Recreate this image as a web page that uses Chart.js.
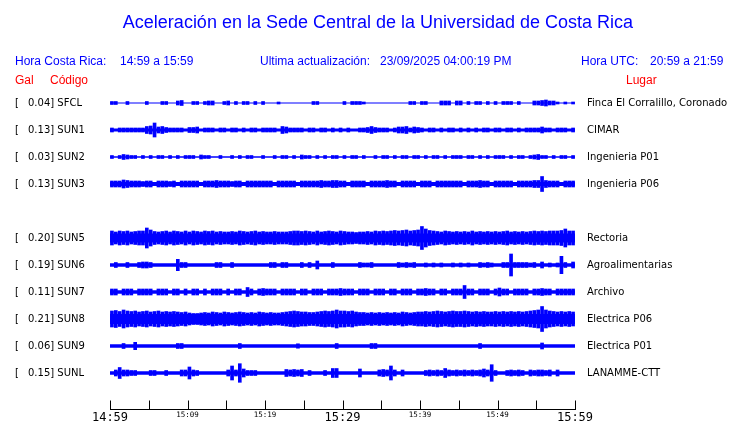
<!DOCTYPE html>
<html>
<head>
<meta charset="utf-8">
<script src="https://cdn.jsdelivr.net/npm/chart.js@4"></script>
<style>
body { margin: 0; background: #fff; }
#wrap { position: relative; width: 740px; height: 423px; overflow: hidden; font-family: "Liberation Sans", Arial, sans-serif; }
#wrap div { position: absolute; white-space: pre; line-height: 1; }
canvas { position: absolute; left: 0; top: 0; }
.t { color: #0000ff; font-size: 18px; }
.h { color: #0000ff; font-size: 12px; }
.r { color: #ff0000; font-size: 12px; }
.lab { font-family: "DejaVu Sans"; font-size: 10px; color: #000; }
</style>
</head>
<body>
<div id="wrap">
  <canvas id="chart" width="740" height="423"></canvas>
  <div class="t" style="left:0;width:756px;text-align:center;top:13px">Aceleración en la Sede Central de la Universidad de Costa Rica</div>
  <div class="h" style="left:15px;top:55px">Hora Costa Rica:</div>
  <div class="h" style="left:120px;top:55px">14:59 a 15:59</div>
  <div class="h" style="left:260px;top:55px">Ultima actualización:</div>
  <div class="h" style="left:380px;top:55px">23/09/2025 04:00:19 PM</div>
  <div class="h" style="left:581px;top:55px">Hora UTC:</div>
  <div class="h" style="left:650px;top:55px">20:59 a 21:59</div>
  <div class="r" style="left:15px;top:74px">Gal</div>
  <div class="r" style="left:50px;top:74px">Código</div>
  <div class="r" style="left:626px;top:74px">Lugar</div>
</div>
<script>
// ===== datos =====
const codes = ["SFCL", "SUN1", "SUN2", "SUN3", "SUN5", "SUN6", "SUN7", "SUN8", "SUN9", "SUNL"];
const gal = ["0.04", "0.13", "0.03", "0.13", "0.20", "0.19", "0.11", "0.21", "0.06", "0.15"];
const places = ["Finca El Corralillo, Coronado", "CIMAR", "Ingenieria P01", "Ingenieria P06",
  "Rectoria", "Agroalimentarias", "Archivo", "Electrica P06", "Electrica P01", "LANAMME-CTT"];
// fila de cada estación (SUN4 no aparece, queda el hueco)
const rows = [0, 1, 2, 3, 5, 6, 7, 8, 9, 10];
const timeLabels = ["14:59", "15:09", "15:19", "15:29", "15:39", "15:49", "15:59"];

// grosor medio de la traza continua
const base = [0.6, 1.5, 0.7, 2, 4.5, 1.8, 1.8, 5, 1.8, 1.8];

// amplitud (media) de cada medio minuto, 120 valores por estación
const ampSFCL = [1.5,1.5,0,0,1.5,0,0,0,0,1.5, 0,0,0,1.5,1.5,0,0,2,2.5,0, 0,1.5,1.5,0,1.5,2,2,0,0,1.5,
  2,0,1.5,0,1.5,1.5,0,1.5,0,1.5, 0,0,0,1,0,0,0,0,0,0, 0,0,1.5,1.5,0,0,0,0,0,0,
  1.5,0,1.5,1.5,1.5,1,0,0,0,0, 0,0,0,0,0,0,0,1.5,1.5,0, 1.5,1.5,0,0,0,2,2,2,0,2,
  2,0,1.5,0,1.5,1.5,0,1.5,0,1.5, 0,1.5,1.5,1.5,0,1.5,0,0,0,2, 2,2.5,3,2,2,1,0,1,0,1];
const ampSUN1 = [2,0,2,2,2,2,2,2,2,3.5, 4,7,3,3.5,2.5,2,2,2,2,0, 2.5,2.5,3,0,2,2,2,0,2,2,
  0,2,2,0,2,0,2,2,0,2, 2,2,2,0,3.5,3,2,2,2,2, 0,2,2,0,2,2,0,2,0,2,
  0,2,0,0,2,2,2.5,3.5,2.5,2, 2,2,0,2,3,3,3.5,2,3,2.5, 2,0,2,2,0,2,0,2,2,0,
  2,0,2,0,2,0,2,2,0,2, 2,0,2,2,0,2,0,2,2,2, 2,3,2,2,0,2,2,2,0,2];
const ampSUN2 = [1.5,0,1.5,2.5,2,1.5,1.5,0,1.5,0, 1.5,0,1.5,1.5,0,1.5,0,1.5,0,1.5, 1.5,1.5,0,2,1.5,1.5,0,0,1.5,0,
  0,1.5,0,1.5,0,1.5,1.5,0,0,1.5, 0,0,1.5,0,1.5,1.5,0,1.5,0,2, 1.5,1.5,0,1.5,0,1.5,0,1.5,1.5,0,
  1.5,0,1.5,1.5,0,1.5,0,0,1.5,0, 1.5,1.5,0,1.5,0,1.5,1.5,0,1.5,1.5, 0,1.5,0,1.5,1.5,0,1.5,0,1.5,1.5,
  1.5,0,1.5,1.5,0,1.5,0,1.5,0,1.5, 1.5,1.5,0,1.5,0,1.5,1.5,0,1.5,2, 2.5,1.5,1.5,0,1.5,0,1.5,1.5,0,1.5];
const ampSUN3 = [3,3,3,4,3.5,3,3,3,2.5,3, 3,0,3,3,3,2.5,3,0,3,3, 3,3,3,0,3,3,3,3.5,3,3,
  3,2.5,3,3,0,3,3,3,3,3, 3,3,0,3,3,3,3,3,0,3, 3,3,3,3,3.5,3,3,3.5,3.5,3,
  3,0,3,3,3,3,0,3,3,3, 3,3.5,3,3,0,3,3,3,3,0, 3,3,3,0,3,3,3,3,3,3,
  3,0,3,3,3,3.5,3,3,0,3, 3,3,3,3,0,3,3,3,3,3.5, 3.5,7.5,3.5,3,3,3,0,3,3,3];
const ampSUN5 = [7,6,7,6.5,7,6,6.5,7,7,10, 8,6.5,6,6.5,7,6,7,6.5,6,7, 6,7,6.5,6,7,6.5,7,6,6.5,6,
  6,6.5,6,7,6.5,6,6.5,7,6,6.5, 6,6,6.5,6,6,6,6.5,7,7,6.5, 7,6.5,6,7,6,6.5,7,6.5,6,7,
  6.5,6,6,5.5,6,6,6.5,6,7,6.5, 7,6.5,7,7.5,7,7.5,8,7,7.5,8, 11.5,9,7.5,7,6.5,6,7,6.5,6,6.5,
  6,6.5,6,7,6,6.5,6,6.5,6,6.5, 6,6.5,7,6,6.5,6,6.5,6,6.5,7, 6.5,7,6.5,7,7,7,7.5,9,7,7];
const ampSUN6 = [0,2.5,0,0,2.5,0,0,2.5,3,3, 2.5,0,0,0,0,0,0,5.7,2.5,2.5, 0,0,0,0,0,0,0,2.5,2.5,0,
  0,2.5,0,0,0,0,0,0,0,0, 0,2.5,2.5,0,2.5,2.5,0,0,0,2.5, 0,2.5,0,4,0,0,0,2.5,0,0,
  0,0,0,0,2.5,2,2,2.5,0,0, 0,0,0,0,2.5,2,2.5,2,2.5,0, 0,2,0,2,0,2,0,0,2,0,
  2,0,2,0,0,2.5,2,2.5,2,0, 0,2.5,2.5,11,2.5,2.5,2.5,2.5,2,2.5, 0,3,0,2,0,2,8.7,2.5,0,3];
const ampSUN7 = [3,3,0,3,3,3,0,3,3,3, 3,0,3,3,3,0,3,3,0,3, 0,3,3,0,3,0,3,3,3,0,
  3,0,3,3,0,4.5,3,0,3,3.5, 3,3,3,0,3,3,3,3,0,3, 3,0,3,3,3,0,3,3,3,3.5,
  3,3,3,0,3,3,3,0,3,3, 3,0,3,3,0,3,3,3,0,3, 3,3.5,3,3,0,3,3,0,3,3,
  3,6.5,3,3,0,3,3,3,0,3, 4,3,3,0,3,3,3,3,0,3, 3,3.5,3,3,0,3,3,3,3,3];
const ampSUN8 = [8,8.5,7.5,9,8,7.5,8,7,7.5,8, 7,7.5,8,7,7.5,7,7.5,7,6.5,7, 6,5.5,5.5,6,6.5,6,7,6.5,6,7,
  6.5,6,6.5,7,6.5,6,6.5,6,7,6.5, 6,6.5,6,6,6.5,7,7.5,8,7.5,7, 7,6.5,6.5,7,7.5,8,7.5,8,9,8,
  8,7.5,8,7,6.5,6.5,6,6.5,6,6.5, 6,6.5,6,6.5,6,7,6.5,6,6.5,7, 7,7.5,7,7.5,8,7.5,7,7.5,8,7.5,
  7.5,8,7.5,7,7.5,7,7.5,7,7,7.5, 7,7.5,7,7.5,7,7.5,7,7.5,8,8.5, 9,12.5,9,8,7.5,7,7.5,7,7.5,7];
const ampSUN9 = [0,0,0,2.5,0,0,3.7,0,0,0, 0,0,0,0,0,0,0,2.5,2.5,0, 0,0,0,0,0,0,0,0,0,0,
  0,0,0,2.5,0,0,0,0,0,0, 0,0,0,0,0,0,0,0,2.2,0, 0,0,0,0,0,0,0,0,2.5,0,
  0,0,0,0,0,0,0,2.5,2.5,0, 0,0,0,0,0,0,0,0,0,0, 0,0,0,0,0,0,0,0,0,0,
  0,0,0,0,0,2.5,0,0,0,0, 0,0,0,0,0,0,0,0,0,0, 0,3,0,0,0,0,0,0,0,0];
const ampSUNL = [0,3,5.5,3,3,2.5,2.5,0,0,0, 2.5,2.5,0,0,2.5,0,0,0,3,3, 6,3,2.5,0,0,0,0,0,0,0,
  3,7,3,9.3,4,2.5,2.5,2.5,0,0, 0,0,0,0,0,3.5,3,3.5,3,3.5, 0,2.5,0,0,0,2.5,0,4.5,4.5,0,
  0,0,0,0,4,0,0,0,0,3, 3.5,3,7,3,0,3,0,0,0,0, 0,2.5,3,2.5,3,2.5,4.5,3,2.5,3,
  2.5,3,2.5,3,2.5,3,4,3,8.3,2.5, 0,0,2.5,3,2.5,3,2.5,0,3,2.5, 3,3,2.5,3,0,3,0,0,0,0];
const amps = [ampSFCL, ampSUN1, ampSUN2, ampSUN3, ampSUN5, ampSUN6, ampSUN7, ampSUN8, ampSUN9, ampSUNL];

const BLUE = "#0000ff";
const centerOf = (row) => 103 + 27 * row;

// ===== etiquetas de texto =====
const wrap = document.getElementById("wrap");
function addText(txt, left, top) {
  const d = document.createElement("div");
  d.className = "lab";
  d.textContent = txt;
  d.style.left = left + "px";
  d.style.top = top + "px";
  wrap.appendChild(d);
}
codes.forEach((code, i) => {
  const y = centerOf(rows[i]) - 5;
  addText("[", 15, y);
  addText(gal[i] + "] " + code, 28, y);
  addText(places[i], 587, y);
});

// ===== trazas =====
const datasets = [];
codes.forEach((code, i) => {
  const c = centerOf(rows[i]);
  datasets.push({
    type: "line", data: [{ x: 0, y: c }, { x: 60, y: c }],
    borderColor: BLUE, borderWidth: base[i] * 2, pointRadius: 0, borderCapStyle: "butt"
  });
  const pts = [];
  amps[i].forEach((a, b) => { if (a > base[i]) pts.push({ x: b / 2 + 0.25, y: [c - a, c + a] }); });
  datasets.push({ type: "bar", data: pts, backgroundColor: BLUE, barThickness: 3, grouped: false });
});

const axisLine = {
  id: "axisLine",
  afterDraw(ch) {
    const x = ch.scales.x, ctx = ch.ctx, y0 = ch.chartArea.bottom + 0.5;
    ctx.save();
    ctx.strokeStyle = "#000";
    ctx.lineWidth = 1;
    ctx.beginPath();
    ctx.moveTo(x.left, y0);
    ctx.lineTo(x.right + 1, y0);
    x.ticks.forEach((t) => {
      const px = Math.round(x.getPixelForValue(t.value)) + 0.5;
      ctx.moveTo(px, y0);
      ctx.lineTo(px, y0 - 9);
    });
    ctx.stroke();
    ctx.restore();
  }
};

new Chart(document.getElementById("chart"), {
  data: { datasets },
  options: {
    responsive: false, animation: false, devicePixelRatio: 1,
    layout: { padding: { left: 110, right: 165, top: 0, bottom: 0 } },
    plugins: { legend: { display: false }, tooltip: { enabled: false } },
    scales: {
      x: {
        type: "linear", min: 0, max: 60, position: "bottom", offset: false,
        grid: { display: false, offset: false }, border: { display: false },
        afterFit: (s) => { s.height = 14; },
        ticks: {
          stepSize: 5, autoSkip: false, maxRotation: 0, padding: -6, color: "#000",
          callback: (v) => (v % 10 === 0 ? timeLabels[v / 10] : ""),
          font: (ctx) => ({ family: "DejaVu Sans Mono", size: ctx.tick && ctx.tick.value % 30 === 0 ? 12 : 7.5 })
        }
      },
      y: { type: "linear", min: 0, max: 409, reverse: true, display: false }
    }
  },
  plugins: [axisLine]
});
</script>
</body>
</html>
